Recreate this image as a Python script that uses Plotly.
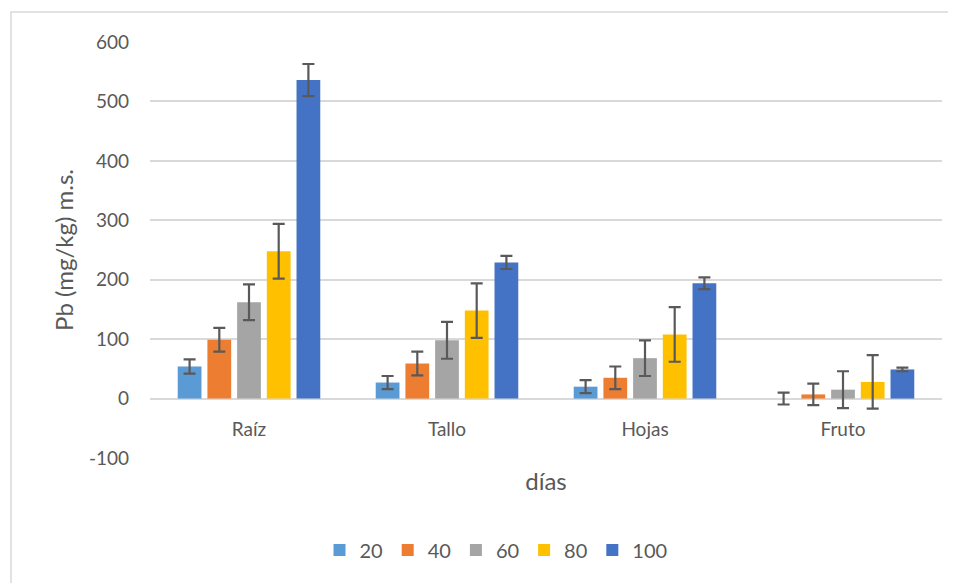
import plotly.graph_objects as go

categories = ["Raíz", "Tallo", "Hojas", "Fruto"]
series_names = ["20", "40", "60", "80", "100"]
values_20 = [54, 27, 20, 0]
values_40 = [99, 59, 35, 7]
values_60 = [162, 98, 68, 15]
values_80 = [248, 148, 108, 28]
values_100 = [536, 229, 194, 49]
err_20 = [12, 11, 11, 10]
err_40 = [20, 20, 19, 18]
err_60 = [30, 31, 30, 31]
err_80 = [46, 46, 46, 45]
err_100 = [27, 11, 10, 3]
y_tickvals = [-100, 0, 100, 200, 300, 400, 500, 600]
y_ticktext = ["-100", "0", "100", "200", "300", "400", "500", "600"]
colors = ["#5B9BD5", "#ED7D31", "#A5A5A5", "#FFC000", "#4472C4"]

all_vals = [values_20, values_40, values_60, values_80, values_100]
all_errs = [err_20, err_40, err_60, err_80, err_100]

# the page body has an 8px margin, so the figure is placed at (8, 8)
OFF = 8
W, H = 956 - OFF, 583 - OFF
ml, mr, mt, mb = 150 - OFF, 14, 42 - OFF, 583 - 458
ymin, ymax = -100, 600

fig = go.Figure()
for name, v, e, c in zip(series_names, all_vals, all_errs, colors):
    fig.add_trace(go.Bar(
        x=categories, y=v, name=name,
        marker=dict(color=c, line=dict(width=0)),
        error_y=dict(type="data", array=e, visible=True, color="#595959",
                     thickness=2.2, width=6),
    ))

pw = W - ml - mr
ph = H - mt - mb
fig.add_shape(type="rect", xref="paper", yref="paper",
              x0=(11 - OFF - ml) / pw, x1=(W + 10 - ml) / pw,
              y0=(H - mb - (H + 10)) / ph, y1=(H - mb - (12 - OFF)) / ph,
              line=dict(color="#D9D9D9", width=1.5), fillcolor="rgba(0,0,0,0)", layer="below")

font_family = "Lato, Open Sans, sans-serif"
gray = "#595959"
fig.update_layout(
    width=W, height=H,
    margin=dict(l=ml, r=mr, t=mt, b=mb, autoexpand=False),
    paper_bgcolor="white", plot_bgcolor="white",
    barmode="group", bargap=0.25, bargroupgap=0.2,
    font=dict(family=font_family, size=19, color=gray),
    xaxis=dict(title=dict(text="días", font=dict(size=24, color=gray), standoff=34),
               anchor="free", position=(0 - ymin) / (ymax - ymin),
               showgrid=False, showline=False, ticks="", ticklabelstandoff=17,
               tickfont=dict(size=19, color=gray), automargin=False),
    yaxis=dict(title=dict(text="Pb (mg/kg) m.s.", font=dict(size=24, color=gray), standoff=8),
               range=[ymin, ymax], tickvals=y_tickvals, ticktext=y_ticktext,
               showgrid=True, gridcolor="#D9D9D9", gridwidth=1.5,
               zeroline=True, zerolinecolor="#D9D9D9", zerolinewidth=1.5,
               showline=False, ticks="", ticklabelstandoff=20,
               tickfont=dict(size=19, color=gray), automargin=False),
    legend=dict(orientation="h", xref="container", yref="container",
                x=(496 - OFF) / W, xanchor="center", y=(H - (550 - OFF)) / H, yanchor="middle",
                font=dict(size=20, color=gray), itemwidth=30, traceorder="normal",
                bgcolor="rgba(0,0,0,0)"),
    showlegend=True,
)

fig.write_html("out.html")
